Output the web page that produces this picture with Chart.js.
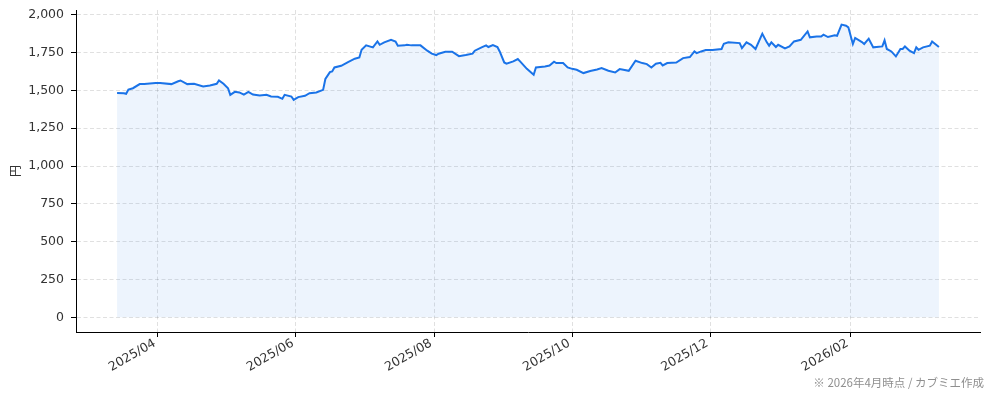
<!DOCTYPE html>
<html lang="ja">
<head>
<meta charset="utf-8">
<title>株価推移</title>
<script src="https://cdn.jsdelivr.net/npm/chart.js@4.4.1/dist/chart.umd.min.js"></script>
<style>
  html, body { margin: 0; padding: 0; background: #fff; }
  #wrap { position: relative; width: 994px; height: 400px; }
  #note {
    position: absolute; right: 10px; top: 374px;
    font: 11.5px "Noto Sans CJK JP", sans-serif; color: #8f8f8f; white-space: nowrap;
  }
</style>
</head>
<body>
<div id="wrap">
  <canvas id="priceChart"></canvas>
  <div id="note">※ 2026年4月時点 / カブミエ作成</div>
</div>
<script>
(function () {
  "use strict";

  // 終値（円）— 画像から読み取った値
  const dates = [
    "2025-03-14", "2025-03-17", "2025-03-18", "2025-03-19", "2025-03-21", "2025-03-24", "2025-03-26", "2025-03-31",
    "2025-04-02", "2025-04-07", "2025-04-10", "2025-04-11", "2025-04-14", "2025-04-17", "2025-04-21", "2025-04-24",
    "2025-04-27", "2025-04-28", "2025-04-30", "2025-05-02", "2025-05-03", "2025-05-05", "2025-05-07", "2025-05-09",
    "2025-05-11", "2025-05-13", "2025-05-16", "2025-05-19", "2025-05-21", "2025-05-24", "2025-05-26", "2025-05-27",
    "2025-05-30", "2025-05-31", "2025-06-02", "2025-06-05", "2025-06-07", "2025-06-10", "2025-06-13", "2025-06-14",
    "2025-06-16", "2025-06-17", "2025-06-18", "2025-06-21", "2025-06-24", "2025-06-27", "2025-06-29", "2025-06-30",
    "2025-07-02", "2025-07-05", "2025-07-07", "2025-07-08", "2025-07-10", "2025-07-13", "2025-07-15", "2025-07-16",
    "2025-07-19", "2025-07-20", "2025-07-22", "2025-07-26", "2025-07-29", "2025-07-31", "2025-08-02", "2025-08-03",
    "2025-08-06", "2025-08-09", "2025-08-12", "2025-08-15", "2025-08-18", "2025-08-19", "2025-08-22", "2025-08-24",
    "2025-08-25", "2025-08-27", "2025-08-29", "2025-08-30", "2025-09-01", "2025-09-02", "2025-09-05", "2025-09-07",
    "2025-09-08", "2025-09-11", "2025-09-14", "2025-09-15", "2025-09-19", "2025-09-21", "2025-09-23", "2025-09-24",
    "2025-09-27", "2025-09-29", "2025-10-01", "2025-10-03", "2025-10-06", "2025-10-09", "2025-10-12", "2025-10-14",
    "2025-10-17", "2025-10-20", "2025-10-22", "2025-10-26", "2025-10-29", "2025-11-01", "2025-11-03", "2025-11-05",
    "2025-11-07", "2025-11-09", "2025-11-10", "2025-11-12", "2025-11-16", "2025-11-19", "2025-11-22", "2025-11-24",
    "2025-11-25", "2025-11-27", "2025-11-29", "2025-12-02", "2025-12-06", "2025-12-07", "2025-12-09", "2025-12-14",
    "2025-12-15", "2025-12-17", "2025-12-19", "2025-12-21", "2025-12-24", "2025-12-26", "2025-12-27", "2025-12-28",
    "2025-12-30", "2025-12-31", "2026-01-03", "2026-01-05", "2026-01-07", "2026-01-10", "2026-01-13", "2026-01-14",
    "2026-01-17", "2026-01-19", "2026-01-20", "2026-01-22", "2026-01-25", "2026-01-26", "2026-01-28", "2026-01-30",
    "2026-01-31", "2026-02-02", "2026-02-03", "2026-02-06", "2026-02-07", "2026-02-09", "2026-02-11", "2026-02-15",
    "2026-02-16", "2026-02-17", "2026-02-19", "2026-02-21", "2026-02-23", "2026-02-24", "2026-02-25", "2026-02-27",
    "2026-03-01", "2026-03-02", "2026-03-03", "2026-03-05", "2026-03-08", "2026-03-09", "2026-03-12"
  ];
  const prices = [
    1483, 1481, 1477, 1505, 1514, 1541, 1541, 1548,
    1548, 1541, 1560, 1565, 1541, 1543, 1525, 1532,
    1543, 1565, 1543, 1514, 1470, 1490, 1486, 1472,
    1490, 1472, 1466, 1470, 1459, 1457, 1444, 1470,
    1459, 1437, 1455, 1464, 1481, 1486, 1503, 1575,
    1620, 1625, 1651, 1662, 1687, 1709, 1717, 1768,
    1797, 1784, 1823, 1801, 1817, 1834, 1823, 1795,
    1797, 1801, 1797, 1797, 1762, 1742, 1733, 1742,
    1755, 1755, 1726, 1733, 1742, 1762, 1784, 1797,
    1786, 1799, 1786, 1757, 1684, 1676, 1691, 1707,
    1691, 1642, 1603, 1651, 1658, 1664, 1689, 1680,
    1680, 1651, 1642, 1636, 1614, 1628, 1638, 1647,
    1629, 1618, 1640, 1629, 1695, 1680, 1673, 1651,
    1676, 1682, 1664, 1680, 1684, 1713, 1720, 1757,
    1746, 1757, 1766, 1766, 1773, 1808, 1817, 1812,
    1779, 1817, 1801, 1773, 1874, 1817, 1795, 1817,
    1786, 1801, 1777, 1790, 1823, 1834, 1889, 1850,
    1856, 1856, 1868, 1852, 1863, 1860, 1934, 1927,
    1916, 1806, 1846, 1819, 1806, 1841, 1784, 1790,
    1830, 1773, 1757, 1724, 1773, 1773, 1790, 1762,
    1746, 1784, 1768, 1784, 1795, 1823, 1786
  ];
  const xTickDates = ["2025-04-01", "2025-06-01", "2025-08-01", "2025-10-01", "2025-12-01", "2026-02-01"];
  const yTicks = [0, 250, 500, 750, 1000, 1250, 1500, 1750, 2000];

  const DAY = 86400000;
  function toDay(s) {
    const [y, m, d] = s.split("-").map(Number);
    return Date.UTC(y, m - 1, d) / DAY;
  }
  function formatMonth(day) {
    const dt = new Date(day * DAY);
    return dt.getUTCFullYear() + "/" + String(dt.getUTCMonth() + 1).padStart(2, "0");
  }

  const points = dates.map((d, i) => ({ x: toDay(d), y: prices[i] }));

  // matplotlib 風の 5% マージン
  const first = points[0].x;
  const last = points[points.length - 1].x;
  const xPad = (last - first) * 0.05;
  const yMaxData = Math.max(...prices);
  const yPad = yMaxData * 0.05;

  const gridColor = "rgba(0,0,0,0.12)";
  const tickFont = { family: "'DejaVu Sans', sans-serif", size: 12.5 };

  new Chart(document.getElementById("priceChart"), {
    type: "line",
    data: {
      datasets: [
        {
          label: "株価",
          data: points,
          borderColor: "#1a73e8",
          backgroundColor: "rgba(26,115,232,0.08)",
          borderWidth: 2,
          pointRadius: 0,
          tension: 0,
          fill: "origin",
        },
      ],
    },
    options: {
      responsive: true,
      maintainAspectRatio: false,
      animation: false,
      layout: { padding: { top: 10, right: 14, left: 0, bottom: 0 } },
      plugins: {
        legend: { display: false },
        tooltip: { enabled: false },
      },
      scales: {
        x: {
          type: "linear",
          min: first - xPad,
          max: last + xPad,
          afterBuildTicks: (scale) => {
            scale.ticks = xTickDates.map((d) => ({ value: toDay(d) }));
          },
          afterFit: (scale) => {
            scale.height = 68;
            scale.paddingLeft = 0;
            scale.paddingRight = 0;
          },
          ticks: {
            autoSkip: false,
            minRotation: 30,
            maxRotation: 30,
            color: "#333",
            font: tickFont,
            padding: -1,
            labelOffset: -3,
            callback: (v) => formatMonth(v),
          },
          grid: { color: gridColor, lineWidth: 1, tickColor: "#000", tickLength: 5, tickWidth: 1 },
          border: { display: true, color: "#000", width: 1, dash: [4, 2.5] },
        },
        y: {
          type: "linear",
          min: -yPad,
          max: yMaxData + yPad,
          afterBuildTicks: (scale) => {
            scale.ticks = yTicks.map((v) => ({ value: v }));
          },
          afterFit: (scale) => {
            scale.width = 76;
            scale.paddingTop = 0;
            scale.paddingBottom = 0;
          },
          title: {
            display: true,
            text: "円",
            color: "#333",
            font: { family: "'Noto Sans CJK JP', sans-serif", size: 12 },
            padding: { top: 8, bottom: 0 },
          },
          ticks: {
            color: "#333",
            font: tickFont,
            padding: 7,
            callback: (v) => v.toLocaleString("en-US"),
          },
          grid: { color: gridColor, lineWidth: 1, tickColor: "#000", tickLength: 5, tickWidth: 1 },
          border: { display: true, color: "#000", width: 1, dash: [4, 2.5] },
        },
      },
    },
  });
})();
</script>
</body>
</html>
